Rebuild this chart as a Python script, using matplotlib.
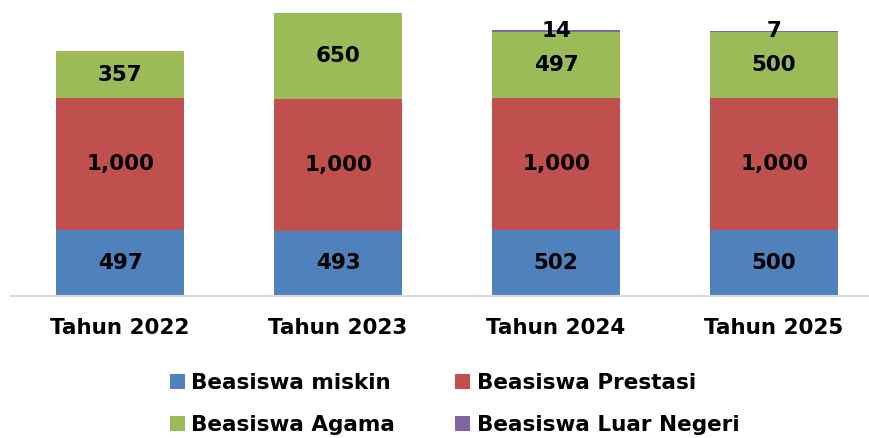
import matplotlib.pyplot as plt
import numpy as np

# data
years = ['Tahun 2022', 'Tahun 2023', 'Tahun 2024', 'Tahun 2025']
miskin = [497, 493, 502, 500]
prestasi = [1000, 1000, 1000, 1000]
agama = [357, 650, 497, 500]
luar_negeri = [0, 0, 14, 7]

series = [
    ('Beasiswa miskin', miskin, '#4F81BD'),
    ('Beasiswa Prestasi', prestasi, '#C0504D'),
    ('Beasiswa Agama', agama, '#9BBB59'),
    ('Beasiswa Luar Negeri', luar_negeri, '#8064A2'),
]

FS = 15.5
plt.rcParams['font.family'] = 'DejaVu Sans'
plt.rcParams['font.weight'] = 'bold'

fig = plt.figure(figsize=(8.69, 4.38), dpi=100)
W, H = 869, 438
# axes placed in pixels: baseline at y=296, x range -0.5..3.5 with 218 px per category
ax = fig.add_axes([11 / W, (H - 296) / H, 872 / W, 2200 * 0.1321 / H])

x = np.arange(len(years))
bottom = np.zeros(len(years))
bars = {}
for name, vals, color in series:
    vals = np.array(vals, dtype=float)
    b = ax.bar(x, vals, width=0.587, bottom=bottom, color=color, label=name, zorder=2)
    bars[name] = b
    for xi, v, bt in zip(x, vals, bottom):
        if v > 0:
            ax.text(xi, bt + v / 2, '{:,}'.format(int(v)), ha='center', va='center',
                    fontsize=FS, fontweight='bold', color='black', zorder=3)
    bottom += vals

ax.set_xlim(-0.5, 3.5)
ax.set_ylim(0, 2200)
ax.set_yticks([])
ax.set_xticks(x)
ax.set_xticklabels(years, fontsize=FS, fontweight='bold')
ax.tick_params(axis='x', length=0, pad=16)
for s in ['top', 'right', 'left']:
    ax.spines[s].set_visible(False)
ax.spines['bottom'].set_color('#d9d9d9')
ax.spines['bottom'].set_linewidth(1.5)

# legend, filled row by row
order = [0, 2, 1, 3]
handles = [bars[series[i][0]] for i in order]
labels = [series[i][0] for i in order]
fig.legend(handles, labels, ncol=2, loc='center', bbox_to_anchor=(0.523, (H - 404) / H),
           frameon=False, handlelength=0.7, handleheight=0.7,
           handletextpad=0.3, columnspacing=2.8, labelspacing=1.0,
           prop={'weight': 'bold', 'size': FS})

fig.savefig('out.png', dpi=100)
